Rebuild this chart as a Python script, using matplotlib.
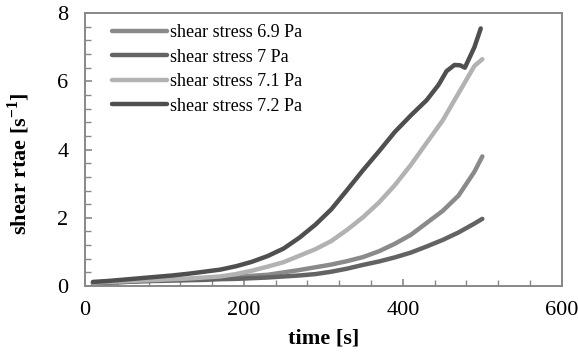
import matplotlib
matplotlib.use('Agg')
import matplotlib.pyplot as plt
from matplotlib.ticker import MultipleLocator

plt.rcParams['font.family'] = 'Liberation Serif'
plt.rcParams['mathtext.fontset'] = 'custom'
plt.rcParams['mathtext.rm'] = 'Liberation Serif'
plt.rcParams['mathtext.bf'] = 'Liberation Serif:bold'

# time points [s]
time = [10, 30, 50, 70, 90, 110, 130, 150, 170, 190, 210, 230, 250, 270,
        290, 310, 330, 350, 370, 390, 410, 430, 450, 470, 490, 500]

# shear rate [1/s] for each applied shear stress
rate_69 = [0.08, 0.10, 0.12, 0.14, 0.16, 0.18, 0.20, 0.22, 0.24, 0.27, 0.30, 0.33, 0.40,
           0.47, 0.55, 0.63, 0.73, 0.85, 1.02, 1.24, 1.50, 1.85, 2.20, 2.65, 3.35, 3.80]
rate_70 = [0.08, 0.10, 0.12, 0.14, 0.15, 0.16, 0.17, 0.18, 0.20, 0.21, 0.23, 0.25, 0.28,
           0.31, 0.35, 0.42, 0.51, 0.62, 0.72, 0.84, 0.98, 1.16, 1.35, 1.57, 1.83, 1.97]
rate_71 = [0.10, 0.12, 0.14, 0.16, 0.18, 0.20, 0.22, 0.25, 0.28, 0.35, 0.45, 0.57, 0.70,
           0.89, 1.08, 1.32, 1.65, 2.02, 2.45, 2.96, 3.55, 4.20, 4.85, 5.65, 6.45, 6.65]

time_72 = [10, 30, 50, 70, 90, 110, 130, 150, 170, 190, 210, 230, 250, 270, 290, 310,
           330, 350, 370, 390, 410, 430, 445, 455, 465, 472, 478, 484, 490, 498]
rate_72 = [0.12, 0.15, 0.19, 0.23, 0.27, 0.31, 0.36, 0.42, 0.48, 0.58, 0.71, 0.88, 1.10,
           1.42, 1.80, 2.25, 2.82, 3.40, 3.95, 4.52, 5.00, 5.45, 5.90, 6.30, 6.48, 6.47,
           6.40, 6.70, 7.00, 7.55]

labels = ['shear stress 6.9 Pa', 'shear stress 7 Pa', 'shear stress 7.1 Pa', 'shear stress 7.2 Pa']
colors = ['#8a8a8a', '#636363', '#b2b2b2', '#4f4f4f']

fig = plt.figure(figsize=(5.78, 3.54), dpi=100)
ax = fig.add_axes([0.147, 0.192, 0.825, 0.771])

series = [(time, rate_69), (time, rate_70), (time, rate_71), (time_72, rate_72)]
for (t, r), lab, c in zip(series, labels, colors):
    ax.plot(t, r, color=c, lw=3.2, solid_capstyle='round', solid_joinstyle='round', label=lab)

ax.set_xlim(0, 600)
ax.set_ylim(0, 8)
ax.xaxis.set_major_locator(MultipleLocator(200))
ax.xaxis.set_minor_locator(MultipleLocator(40))
ax.yaxis.set_major_locator(MultipleLocator(2))
ax.yaxis.set_minor_locator(MultipleLocator(0.4))
ax.tick_params(which='both', direction='in', color='#888888', labelsize=16)
ax.tick_params(which='major', length=5, width=1.2)
ax.tick_params(which='minor', length=4, width=1.0)
ax.tick_params(axis='x', pad=11)
ax.tick_params(axis='y', pad=12)
for s in ax.spines.values():
    s.set_color('#888888')
    s.set_linewidth(1.4)

ax.set_xlabel('time [s]', fontsize=16, fontweight='bold')
ax.set_ylabel(r'shear rtae [s$^{\mathbf{-1}}$]', fontsize=16, fontweight='bold')
ax.xaxis.set_label_coords(0.5, -0.155)
ax.yaxis.set_label_coords(-0.112, 0.45)

ax.legend(loc='upper left', frameon=False, fontsize=13, handlelength=3.0,
          handletextpad=0.2, labelspacing=0.42, borderaxespad=0.2,
          bbox_to_anchor=(0.035, 1.0))

fig.savefig('out.png', dpi=100)
